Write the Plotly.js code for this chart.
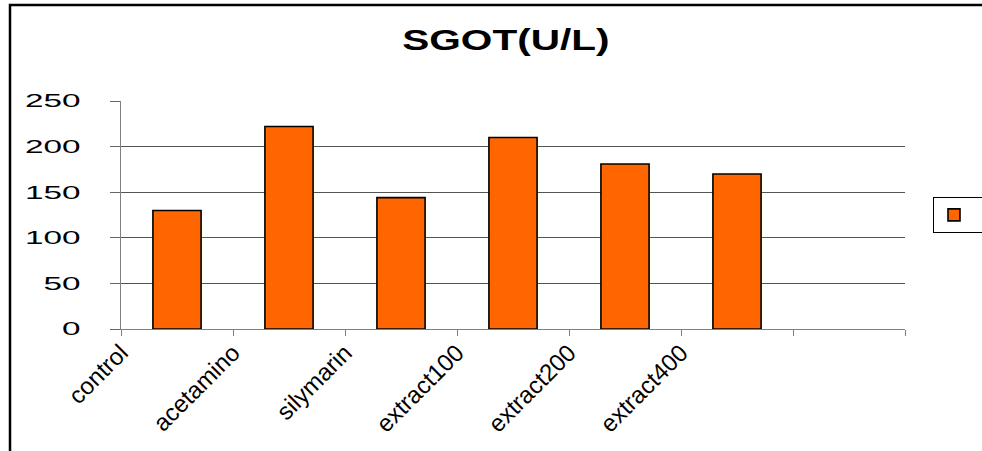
<!DOCTYPE html>
<html>
<head>
<meta charset="utf-8">
<script src="https://cdn.plot.ly/plotly-3.0.1.min.js"></script>
<style>
html,body{margin:0;padding:0;background:#fff;}
#chart{width:982px;height:451px;}
</style>
</head>
<body>
<div id="chart"></div>
<script>
// Data
var categories = ["control", "acetamino", "silymarin", "extract100", "extract200", "extract400"];
var emptySlots = [" "];
var sgotValues = [130, 222, 144, 210, 181, 170];
var yTicks = [0, 50, 100, 150, 200, 250];
var chartTitle = "SGOT(U/L)";
var seriesName = " ";

var labelPositions = categories.map(function (c, i) { return i; });

var traces = [
  {
    type: "bar",
    x: categories,
    y: sgotValues,
    name: seriesName,
    marker: { color: "#FF6600", line: { color: "#000000", width: 1.6 } },
    hoverinfo: "skip"
  },
  {
    type: "scatter",
    mode: "markers",
    x: [],
    y: [],
    xaxis: "x2",
    yaxis: "y",
    showlegend: false,
    hoverinfo: "skip"
  }
];

var FONT = "Liberation Sans, Arial, sans-serif";

var layout = {
  width: 982,
  height: 451,
  margin: { l: 121, r: 77, t: 101, b: 122, pad: 0, autoexpand: false },
  paper_bgcolor: "#ffffff",
  plot_bgcolor: "#ffffff",
  font: { family: FONT, color: "#000000" },
  title: {
    text: "<b>" + chartTitle + "</b>",
    font: { family: FONT, size: 29, color: "#000000" },
    xref: "paper",
    x: 0.491,
    xanchor: "center",
    yref: "container",
    y: 1 - 40 / 451,
    yanchor: "middle"
  },
  bargap: 0.57,
  xaxis: {
    type: "category",
    categoryorder: "array",
    categoryarray: categories.concat(emptySlots),
    range: [-0.5, categories.length + emptySlots.length - 0.5],
    tickson: "boundaries",
    ticks: "outside",
    ticklen: 6,
    tickcolor: "#808080",
    tickwidth: 1,
    showticklabels: false,
    showline: true,
    linecolor: "#808080",
    linewidth: 1,
    showgrid: false,
    zeroline: false,
    automargin: false,
    fixedrange: true
  },
  xaxis2: {
    type: "linear",
    overlaying: "x",
    anchor: "y",
    side: "bottom",
    range: [0, categories.length + emptySlots.length],
    tickmode: "array",
    tickvals: labelPositions,
    ticktext: categories,
    tickangle: -45,
    ticks: "",
    ticklabelstandoff: 4,
    showline: false,
    showgrid: false,
    zeroline: false,
    automargin: false,
    tickfont: { family: FONT, size: 24, color: "#000000" },
    fixedrange: true
  },
  yaxis: {
    range: [0, 250],
    tickmode: "array",
    tickvals: yTicks,
    ticktext: yTicks.map(String),
    ticks: "outside",
    ticklen: 10,
    tickcolor: "#666666",
    tickwidth: 1,
    ticklabelstandoff: 14,
    showline: true,
    linecolor: "#808080",
    linewidth: 1,
    showgrid: true,
    gridcolor: "#555555",
    gridwidth: 1,
    zeroline: false,
    automargin: false,
    tickfont: { family: FONT, size: 18, color: "#000000" },
    fixedrange: true
  },
  showlegend: true,
  legend: {
    x: (933 - 121) / 784,
    xanchor: "left",
    y: 0.5,
    yanchor: "middle",
    bordercolor: "#000000",
    borderwidth: 1,
    bgcolor: "#ffffff",
    font: { family: FONT, size: 16, color: "#000000" }
  },
  shapes: [
    {
      type: "rect",
      xref: "paper",
      yref: "paper",
      x0: (10 - 121) / 784,
      x1: (995 - 121) / 784,
      y0: (329 - 470) / 228,
      y1: (329 - 5) / 228,
      line: { color: "#000000", width: 2.5 },
      fillcolor: "rgba(0,0,0,0)",
      layer: "above"
    }
  ]
};

Plotly.newPlot("chart", traces, layout, { staticPlot: true, displayModeBar: false }).then(function (gd) {
  // Reference text is horizontally stretched: widen the y tick labels and the title.
  var yt = gd.querySelectorAll("g.ytick");
  yt.forEach(function (g) {
    var t = g.querySelector("text");
    if (!t) return;
    var bb = t.getBBox();
    var rx = bb.x + bb.width;
    g.setAttribute("transform", "translate(" + rx + ",0) scale(1.85,1) translate(" + (-rx) + ",0)");
  });
  var title = gd.querySelector("text.gtitle");
  if (title) {
    var tb = title.getBBox();
    var cx = tb.x + tb.width / 2;
    var wrap = document.createElementNS("http://www.w3.org/2000/svg", "g");
    title.parentNode.insertBefore(wrap, title);
    wrap.appendChild(title);
    wrap.setAttribute("transform", "translate(" + cx + ",0) scale(1.4,1) translate(" + (-cx) + ",0)");
  }
});
</script>
</body>
</html>
